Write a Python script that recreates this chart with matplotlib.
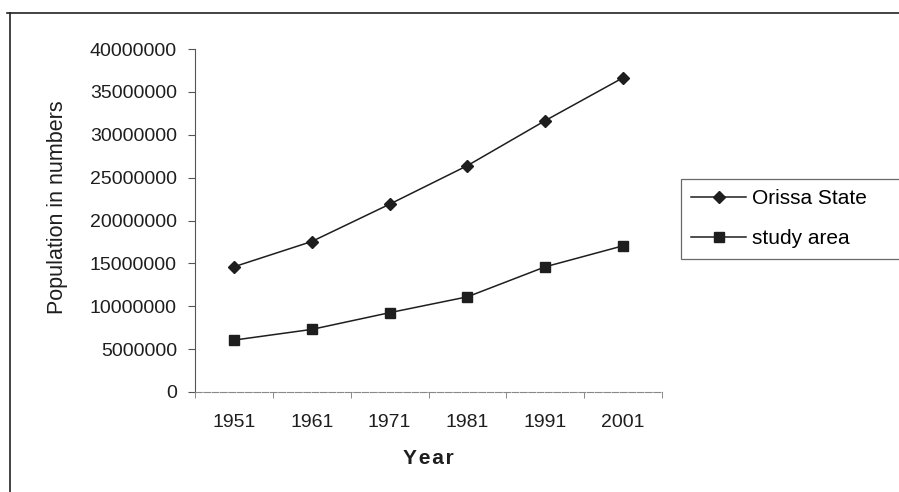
import matplotlib
matplotlib.use("Agg")
import matplotlib.pyplot as plt
from matplotlib.lines import Line2D

plt.rcParams['font.family'] = ['Liberation Sans', 'DejaVu Sans']

years = ["1951", "1961", "1971", "1981", "1991", "2001"]
orissa_state = [14600000, 17550000, 21900000, 26400000, 31650000, 36650000]
study_area = [6050000, 7300000, 9250000, 11100000, 14600000, 17050000]
y_ticks = [0, 5000000, 10000000, 15000000, 20000000, 25000000,
           30000000, 35000000, 40000000]

W, H = 899, 492
fig = plt.figure(figsize=(W / 100, H / 100), dpi=100)
ax = fig.add_axes([195 / W, 1 - 392 / H, (662 - 195) / W, (392 - 49) / H])

ink = "#1e1e1e"
x = range(len(years))
ax.plot(x, orissa_state, color=ink, lw=1.1, marker="D", ms=6.5,
        mfc=ink, mec=ink, label="Orissa State")
ax.plot(x, study_area, color=ink, lw=1.1, marker="s", ms=6.5,
        mfc=ink, mec=ink, label="study area")

ax.set_xlim(-0.5, len(years) - 0.5)
ax.set_ylim(0, 40000000)
ax.set_yticks(y_ticks)
ax.set_yticklabels([str(v) for v in y_ticks])
ax.set_xticks(list(x))
ax.set_xticklabels(years)
ax.set_xticks([i - 0.5 for i in range(len(years) + 1)], minor=True)
ax.tick_params(axis="x", which="major", length=0, pad=16, labelsize=14,
               colors=ink)
ax.tick_params(axis="x", which="minor", length=4, direction="out",
               color="#777777")
ax.tick_params(axis="y", length=5, direction="out", pad=8, labelsize=14,
               colors=ink, color="#555555")

for side in ("top", "right"):
    ax.spines[side].set_visible(False)
ax.spines["left"].set_color("#555555")
ax.spines["bottom"].set_color("#888888")
ax.spines["bottom"].set_linestyle((0, (6, 1.5)))

ax.set_ylabel("Population in numbers", fontsize=15.5, color=ink)
ax.yaxis.set_label_coords(-0.272, 0.539)
ax.set_xlabel("Y\u200ae\u200aa\u200ar", fontsize=15, fontweight="bold",
              color=ink, labelpad=13)

leg = ax.legend(loc="upper left", bbox_to_anchor=(681 / W, 1 - 184 / H,
                                                  0.4, 0.01),
                bbox_transform=fig.transFigure, mode="expand",
                frameon=True, fancybox=False, fontsize=15,
                handlelength=2.6, handletextpad=0.3, borderpad=0.5,
                labelspacing=1.0, borderaxespad=0)
leg.get_frame().set_edgecolor("#444444")
leg.get_frame().set_linewidth(0.9)

# outer frame of the figure panel
fig.add_artist(Line2D([7 / W, 1.0], [1 - 13 / H, 1 - 13 / H],
                      transform=fig.transFigure, color="#222222", lw=1.2))
fig.add_artist(Line2D([10 / W, 10 / W], [1 - 13 / H, 0.0],
                      transform=fig.transFigure, color="#222222", lw=1.2))

fig.savefig("out.png", dpi=100)
